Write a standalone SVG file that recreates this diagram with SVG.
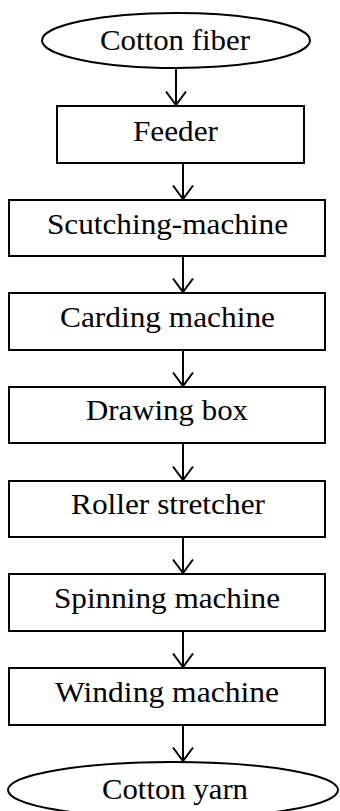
<svg xmlns="http://www.w3.org/2000/svg" width="340" height="811" viewBox="0 0 340 811">
  <defs>
    <style>
      .shape { fill: #ffffff; stroke: #000000; stroke-width: 2; }
      .label { font-family: "Liberation Serif", "Times New Roman", serif; font-size: 29px; fill: #000000; text-anchor: middle; }
      .link { fill: none; stroke: #000000; stroke-width: 2; }
    </style>
    <!-- open V arrowhead, drawn pointing along +x so orient="auto" follows the line -->
    <marker id="vhead" markerUnits="userSpaceOnUse" markerWidth="18" markerHeight="24" refX="15" refY="11" orient="auto" viewBox="0 0 18 22">
      <path d="M1.5,1 L15,11 L1.5,21" fill="none" stroke="#000" stroke-width="2"/>
    </marker>
  </defs>
  <rect width="340" height="811" fill="#ffffff"/>

  <g id="connectors">
    <path class="link" d="M176,68 V105" marker-end="url(#vhead)"/>
    <path class="link" d="M183,163 V199" marker-end="url(#vhead)"/>
    <path class="link" d="M183,256 V292" marker-end="url(#vhead)"/>
    <path class="link" d="M183,350 V386" marker-end="url(#vhead)"/>
    <path class="link" d="M183,443 V480" marker-end="url(#vhead)"/>
    <path class="link" d="M183,537 V573" marker-end="url(#vhead)"/>
    <path class="link" d="M183,631 V667" marker-end="url(#vhead)"/>
    <path class="link" d="M183,725 V761" marker-end="url(#vhead)"/>
  </g>

  <g id="cotton-fiber">
    <ellipse class="shape" cx="176" cy="40.5" rx="134" ry="27.5"/>
    <text class="label" x="175" y="50" textLength="150" lengthAdjust="spacingAndGlyphs">Cotton fiber</text>
  </g>

  <g id="feeder">
    <rect class="shape" x="57" y="106" width="247" height="57"/>
    <text class="label" x="175.5" y="141" textLength="85" lengthAdjust="spacingAndGlyphs">Feeder</text>
  </g>

  <g id="scutching-machine">
    <rect class="shape" x="9" y="200" width="316" height="56"/>
    <text class="label" x="167.5" y="234" textLength="241" lengthAdjust="spacingAndGlyphs">Scutching-machine</text>
  </g>

  <g id="carding-machine">
    <rect class="shape" x="9" y="293" width="316" height="57"/>
    <text class="label" x="167.5" y="327" textLength="215" lengthAdjust="spacingAndGlyphs">Carding machine</text>
  </g>

  <g id="drawing-box">
    <rect class="shape" x="9" y="387" width="316" height="56"/>
    <text class="label" x="167" y="420" textLength="162" lengthAdjust="spacingAndGlyphs">Drawing box</text>
  </g>

  <g id="roller-stretcher">
    <rect class="shape" x="9" y="481" width="316" height="56"/>
    <text class="label" x="168" y="514" textLength="194" lengthAdjust="spacingAndGlyphs">Roller stretcher</text>
  </g>

  <g id="spinning-machine">
    <rect class="shape" x="9" y="574" width="316" height="57"/>
    <text class="label" x="167" y="608" textLength="226" lengthAdjust="spacingAndGlyphs">Spinning machine</text>
  </g>

  <g id="winding-machine">
    <rect class="shape" x="9" y="668" width="316" height="57"/>
    <text class="label" x="167" y="702" textLength="224" lengthAdjust="spacingAndGlyphs">Winding machine</text>
  </g>

  <g id="cotton-yarn">
    <ellipse class="shape" cx="173" cy="790" rx="165" ry="28"/>
    <text class="label" x="175" y="799" textLength="146" lengthAdjust="spacingAndGlyphs">Cotton yarn</text>
  </g>
</svg>
